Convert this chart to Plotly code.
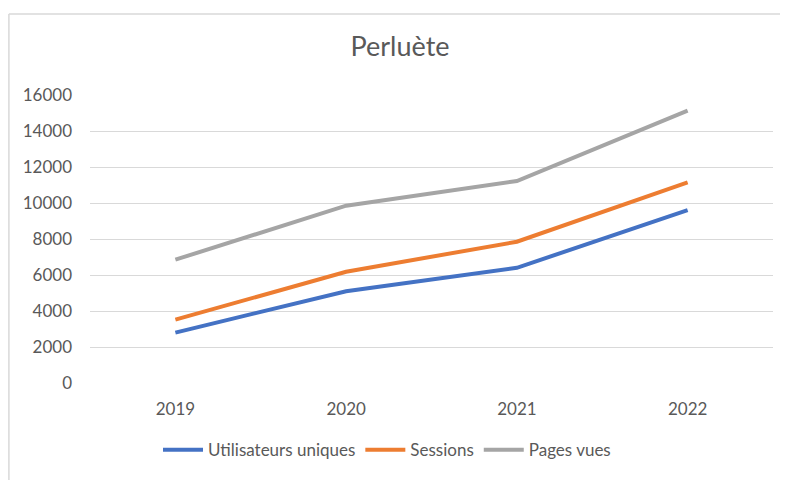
import plotly.graph_objects as go

years = ["2019", "2020", "2021", "2022"]
utilisateurs = [2800, 5100, 6400, 9600]
sessions = [3520, 6180, 7850, 11150]
pages_vues = [6850, 9850, 11220, 15130]
y_ticks = [0, 2000, 4000, 6000, 8000, 10000, 12000, 14000, 16000]
y_tick_labels = [str(v) for v in y_ticks]

series = [
    ("Utilisateurs uniques", utilisateurs, "#4472C4"),
    ("Sessions", sessions, "#ED7D31"),
    ("Pages vues", pages_vues, "#A5A5A5"),
]

fig = go.Figure()
for name, vals, color in series:
    fig.add_trace(go.Scatter(x=years, y=vals, name=name, mode="lines",
                             line=dict(color=color, width=4)))

# page body has an 8px offset; figure sized to fit the remaining window
OFF = 8
W, H = 788 - OFF, 480 - OFF
L, T = 90 - OFF, 94.5 - OFF
PW, PH = 683, 291.7
R = W - L - PW
B = H - T - PH
font_family = "Lato, 'Open Sans', sans-serif"
fig.update_layout(
    width=W, height=H,
    margin=dict(l=L, r=R, t=T, b=B),
    paper_bgcolor="white", plot_bgcolor="white",
    title=dict(text="Perluète", x=(400 - OFF) / W, xanchor="center", y=1 - (47 - OFF) / H,
               yanchor="middle",
               font=dict(family=font_family, size=27, color="#595959")),
    font=dict(family=font_family, size=17, color="#595959"),
    showlegend=True,
    legend=dict(orientation="h", x=(387 - 90) / PW, xanchor="center", y=-0.233, yanchor="middle",
                font=dict(size=17, color="#595959"), itemwidth=40,
                traceorder="normal"),
    xaxis=dict(type="category", range=[-0.5, 3.5], showgrid=False, zeroline=False,
               showline=False, ticks="", tickfont=dict(size=17, color="#595959"),
               ticklabelstandoff=14),
    yaxis=dict(range=[0, 16000], tickvals=y_ticks, ticktext=y_tick_labels,
               showgrid=True, gridcolor="#d9d9d9",
               gridwidth=1, zeroline=False, showline=False, ticks="",
               tickfont=dict(size=17, color="#595959"), ticklabelstandoff=17),
    shapes=[
        dict(type="line", xref="paper", yref="paper", x0=(0.9 - L) / PW, x1=(0.9 - L) / PW,
             y0=-1, y1=(T + PH - 4.5) / PH, line=dict(color="#d9d9d9", width=1.5)),
        dict(type="line", xref="paper", yref="paper", x0=(0.9 - L) / PW, x1=2,
             y0=(T + PH - 4.5) / PH, y1=(T + PH - 4.5) / PH, line=dict(color="#d9d9d9", width=1.5)),
    ],
)

fig.write_html("out.html")
